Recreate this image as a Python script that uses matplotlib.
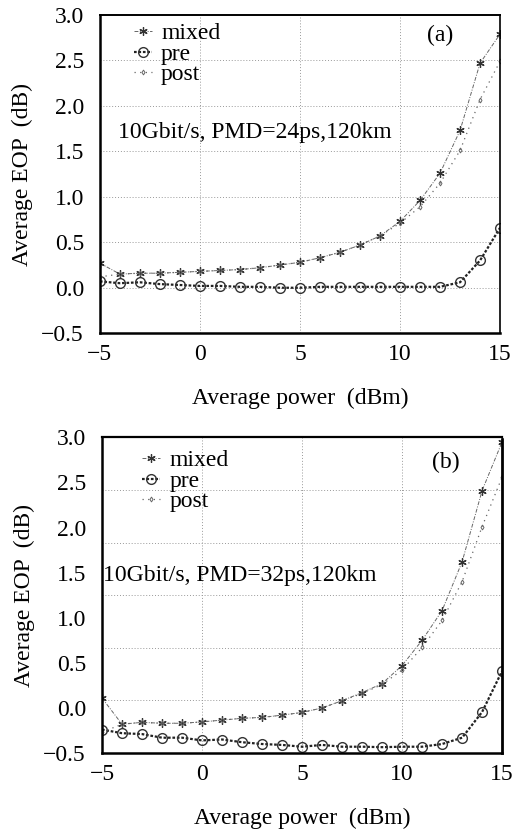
import matplotlib
matplotlib.use("Agg")
import matplotlib.pyplot as plt
import numpy as np

plt.rcParams['font.family'] = ['Liberation Serif', 'DejaVu Serif']
plt.rcParams['mathtext.fontset'] = 'stix'

power = [-5, -4, -3, -2, -1, 0, 1, 2, 3, 4, 5, 6, 7, 8, 9, 10, 11, 12, 13, 14, 15]

mixed_a = [0.27, 0.15, 0.16, 0.16, 0.17, 0.18, 0.19, 0.20, 0.22, 0.25, 0.28, 0.33, 0.39, 0.47,
           0.57, 0.73, 0.96, 1.26, 1.73, 2.47, 2.79]
pre_a = [0.07, 0.05, 0.06, 0.04, 0.03, 0.02, 0.02, 0.01, 0.01, 0.0, 0.0, 0.01, 0.01, 0.01,
         0.01, 0.01, 0.01, 0.01, 0.06, 0.30, 0.66]
post_a = [0.12, 0.15, 0.16, 0.16, 0.17, 0.18, 0.19, 0.20, 0.22, 0.25, 0.28, 0.33, 0.39, 0.47,
          0.57, 0.71, 0.89, 1.15, 1.51, 2.07, 2.49]

mixed_b = [0.11, -0.18, -0.16, -0.17, -0.17, -0.155, -0.135, -0.115, -0.105, -0.08, -0.05, 0.0,
           0.08, 0.17, 0.27, 0.47, 0.75, 1.08, 1.62, 2.41, 2.95]
pre_b = [-0.24, -0.28, -0.29, -0.33, -0.33, -0.36, -0.35, -0.38, -0.40, -0.41, -0.43, -0.41,
         -0.43, -0.43, -0.435, -0.43, -0.43, -0.40, -0.33, -0.045, 0.41]
post_b = [-0.27, -0.18, -0.16, -0.17, -0.17, -0.155, -0.135, -0.115, -0.105, -0.08, -0.05, 0.0,
          0.08, 0.16, 0.26, 0.42, 0.67, 0.97, 1.40, 2.01, 2.56]

xticks = [-5, 0, 5, 10, 15]
yticks = [-0.5, 0.0, 0.5, 1.0, 1.5, 2.0, 2.5, 3.0]
ytick_labels = ['−0.5', '0.0', '0.5', '1.0', '1.5', '2.0', '2.5', '3.0']
xtick_labels = ['−5', '0', '5', '10', '15']

fig = plt.figure(figsize=(5.15, 8.33), dpi=100)
ax_a = fig.add_axes([0.194, 0.600, 0.777, 0.382])
ax_b = fig.add_axes([0.198, 0.096, 0.777, 0.379])

FS = 17


def draw(ax, mixed, pre, post, label, note, note_xy, label_xy, leg_xy, panel_b):
    ax.plot(power, mixed, color='#666666', lw=0.7, ls=(0, (4, 1.5, 1, 1.5)), marker=(6, 2, 0),
            ms=6, mew=0.9, mec='#333333', label='mixed')
    ax.plot(power, pre, color='#222222', lw=1.6, ls=(0, (1.2, 0.8)), marker='o', ms=7,
            mfc='none', mec='#333333', mew=1.0, label='pre')
    ax.plot(power, post, color='#666666', lw=0.9, ls=(0, (1, 3.5)), marker='d', ms=2.5,
            mfc='none', mec='#666666', mew=0.7, label='post')
    ax.set_xlim(-5, 15)
    ax.set_ylim(-0.5, 3.0)
    ax.set_xticks(xticks)
    ax.set_xticklabels(xtick_labels)
    ax.set_yticks(yticks)
    ax.set_yticklabels(ytick_labels)
    ax.tick_params(length=0, labelsize=FS)
    ax.tick_params(axis='y', pad=11.5)
    ax.tick_params(axis='x', pad=8)
    # grid
    for xv in [0, 5, 10]:
        ax.axvline(xv, color='#999999', lw=0.7, ls=(0, (1, 2)), zorder=0)
    if panel_b:
        glines = [-0.5 + k * 3.5 / 6 for k in range(1, 6)]
    else:
        glines = [0.0, 0.5, 1.0, 1.5, 2.0, 2.5]
    for yv in glines:
        ax.axhline(yv, color='#999999', lw=0.7, ls=(0, (1, 2)), zorder=0)
    for s in ['left', 'bottom']:
        ax.spines[s].set_linewidth(1.8)
    if panel_b:
        ax.spines['top'].set_linewidth(1.6)
        ax.spines['right'].set_linewidth(2.0)
        ax.spines['right'].set_linestyle((0, (1, 1)))
    else:
        ax.spines['top'].set_linewidth(1.4)
        ax.spines['top'].set_linestyle((0, (3, 1)))
        ax.spines['right'].set_linewidth(1.2)
        ax.spines['right'].set_linestyle((0, (2, 1)))
    ax.set_xlabel('Average power  (dBm)', fontsize=FS, labelpad=16)
    ax.set_ylabel('Average EOP  (dB)', fontsize=FS, labelpad=6)
    ax.text(label_xy[0], label_xy[1], label, transform=ax.transAxes, fontsize=FS,
            ha='center', va='center')
    ax.text(note_xy[0], note_xy[1], note, transform=ax.transAxes, fontsize=FS,
            ha='left', va='center')
    ax.legend(loc='upper left', bbox_to_anchor=leg_xy, frameon=False,
              fontsize=FS, handlelength=0.75, handletextpad=0.4, labelspacing=-0.05,
              borderaxespad=0.0, borderpad=0.0)


draw(ax_a, mixed_a, pre_a, post_a, '(a)', '10Gbit/s, PMD=24ps,120km', (0.045, 0.632),
     (0.85, 0.937), (0.085, 0.975), False)
draw(ax_b, mixed_b, pre_b, post_b, '(b)', '10Gbit/s, PMD=32ps,120km', (0.003, 0.563),
     (0.86, 0.92), (0.1, 0.96), True)

fig.savefig('out.png', dpi=100)
